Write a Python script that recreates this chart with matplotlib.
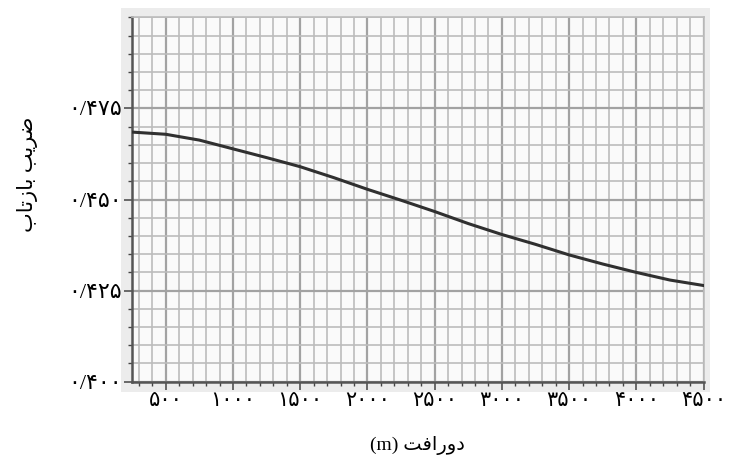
import matplotlib
matplotlib.use("Agg")
import matplotlib.pyplot as plt
from matplotlib.patches import Rectangle
from matplotlib.ticker import MultipleLocator, FixedLocator

# ------------------------------------------------------------
# Data: reflection coefficient vs. distance
# ------------------------------------------------------------
distance = [250, 500, 750, 1000, 1250, 1500, 1750, 2000, 2250,
            2500, 2750, 3000, 3250, 3500, 3750, 4000, 4250, 4500]
reflection = [0.4685, 0.4679, 0.4663, 0.4639, 0.4615, 0.4590, 0.4560, 0.4528, 0.4498,
              0.4467, 0.4434, 0.4404, 0.4377, 0.4348, 0.4323, 0.4300, 0.4279, 0.4264]

x_ticks = [500, 1000, 1500, 2000, 2500, 3000, 3500, 4000, 4500]
y_ticks = [0.400, 0.425, 0.450, 0.475]

# Persian digits, labels pre-shaped in visual order (no bidi in matplotlib)
FA_DIGITS = str.maketrans("0123456789", "۰۱۲۳۴۵۶۷۸۹")
x_labels = [str(v).translate(FA_DIGITS) for v in x_ticks]
y_labels = [("%.3f" % v).replace(".", "/").translate(FA_DIGITS) for v in y_ticks]
x_title = "(m) \ufe96\ufed3\ufe8d\ufead\ufeed\ufea9"
y_title = "\ufe8f\ufe8e\ufe97\ufeaf\ufe8e\ufe91 \ufe90\ufef3\ufeae\ufebf"

FONTS = ["Liberation Serif", "DejaVu Sans"]

# ------------------------------------------------------------
# Figure
# ------------------------------------------------------------
fig = plt.figure(figsize=(7.30, 4.59), dpi=100)
fig.patch.set_facecolor("white")

# light grey panel behind the plotting area
fig.patches.append(Rectangle((0.166, 0.146), 0.806, 0.837, transform=fig.transFigure,
                             facecolor="#ececec", edgecolor="none", zorder=-1))

ax = fig.add_axes([0.181, 0.1684, 0.7827, 0.7939])
ax.set_zorder(1)
ax.set_facecolor("#fafafa")

ax.plot(distance, reflection, color="#303030", linewidth=2.2, zorder=5)

ax.set_xlim(250, 4500)
ax.set_ylim(0.400, 0.500)

ax.xaxis.set_major_locator(FixedLocator(x_ticks))
ax.xaxis.set_minor_locator(MultipleLocator(100))
ax.yaxis.set_major_locator(FixedLocator(y_ticks))
ax.yaxis.set_minor_locator(MultipleLocator(0.005))
ax.set_xticklabels(x_labels, family=FONTS, fontsize=15)
ax.set_yticklabels(y_labels, family=FONTS, fontsize=16)

ax.grid(which="minor", color="#bcbcbc", linewidth=1.2)
ax.grid(which="major", color="#a2a2a2", linewidth=1.6)
ax.set_axisbelow(True)

ax.tick_params(which="major", direction="out", length=5.5, width=1.1, color="#444444", pad=2)
ax.tick_params(which="minor", direction="out", length=2.8, width=1.0, color="#444444")

for side in ("left", "bottom"):
    ax.spines[side].set_color("#555555")
    ax.spines[side].set_linewidth(1.8)
for side in ("top", "right"):
    ax.spines[side].set_color("#bcbcbc")
    ax.spines[side].set_linewidth(1.2)

ax.set_xlabel(x_title, family=FONTS, fontsize=14, labelpad=18)
ax.set_ylabel(y_title, family=FONTS, fontsize=15)
ax.yaxis.set_label_coords(-0.165, 0.57)

fig.savefig("out.png", dpi=100)
